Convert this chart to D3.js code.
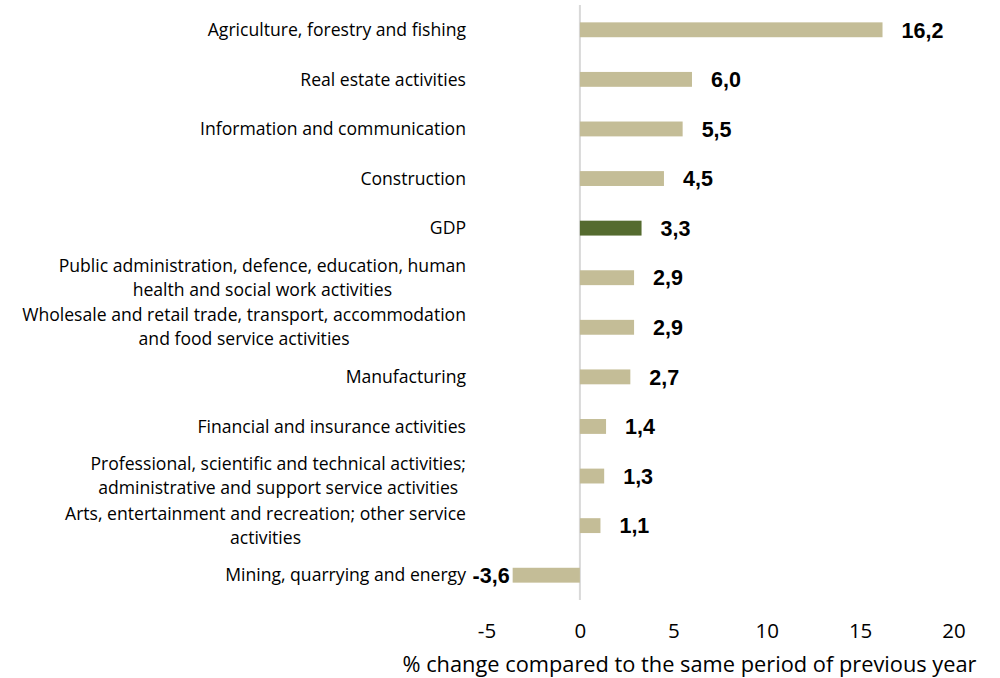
<!DOCTYPE html>
<html><head><meta charset="utf-8">
<script src="https://cdn.jsdelivr.net/npm/d3@7"></script>
<style>body{margin:0;background:#fff;} text{font-family:"Open Sans",Lato,sans-serif;}</style>
</head><body><svg id="c" width="1000" height="678"></svg>
<script>
const categories = [
  ["Agriculture, forestry and fishing"],
  ["Real estate activities"],
  ["Information and communication"],
  ["Construction"],
  ["GDP"],
  ["Public administration, defence, education, human","health and social work activities"],
  ["Wholesale and retail trade, transport, accommodation","and food service activities"],
  ["Manufacturing"],
  ["Financial and insurance activities"],
  ["Professional, scientific and technical activities;","administrative and support service activities"],
  ["Arts, entertainment and recreation; other service","activities"],
  ["Mining, quarrying and energy"]
];
const values = [16.2, 6.0, 5.5, 4.5, 3.3, 2.9, 2.9, 2.7, 1.4, 1.3, 1.1, -3.6];
const highlight = "GDP";
const xTicks = [-5, 0, 5, 10, 15, 20];
const xTitle = "% change compared to the same period of previous year";

const svg = d3.select("#c");
const x = d3.scaleLinear().domain([-5, 20]).range([486.5, 953.5]);
const y = d3.scaleBand().domain(d3.range(categories.length)).range([5, 600]).paddingInner(0.7).paddingOuter(0.35);
const fmt = v => v.toFixed(1).replace(".", ",");

svg.append("line").attr("x1", x(0)).attr("x2", x(0)).attr("y1", 5).attr("y2", 600)
  .attr("stroke", "#d9d9d9").attr("stroke-width", 2);

svg.selectAll("rect.bar").data(values).join("rect").attr("class","bar")
  .attr("x", d => x(Math.min(0, d))).attr("width", d => Math.abs(x(d) - x(0)))
  .attr("y", (d,i) => y(i)).attr("height", y.bandwidth())
  .attr("fill", (d,i) => categories[i][0] === highlight ? "#556b2f" : "#c4bd97");

svg.selectAll("text.val").data(values).join("text").attr("class","val")
  .attr("x", d => d >= 0 ? x(d) + 19 : x(d) - 3)
  .attr("y", (d,i) => y(i) + y.bandwidth()/2)
  .attr("dy", "0.36em").attr("text-anchor", d => d >= 0 ? "start" : "end")
  .style("font-family", "Liberation Sans, Arial, sans-serif").style("font-weight", "bold").style("font-size", "21.5px")
  .attr("fill", "#000").text(fmt);

const cat = svg.selectAll("text.cat").data(categories).join("text").attr("class","cat")
  .attr("text-anchor", "end").style("font-size", "17.6px").attr("fill", "#000")
  .attr("transform", (d,i) => `translate(466,${y(i) + y.bandwidth()/2})`);
cat.selectAll("tspan").data(d => d.map((t,j) => ({t, j, n: d.length}))).join("tspan")
  .attr("x", 0)
  .attr("y", d => (d.j - (d.n - 1)/2) * 24)
  .attr("dy", "0.35em").text(d => d.t);
cat.each(function(d){
  if (d.length > 1) {
    const ts = d3.select(this).selectAll("tspan").nodes();
    const w0 = ts[0].getComputedTextLength(), w1 = ts[1].getComputedTextLength();
    d3.select(ts[1]).attr("x", -(w0 - w1)/2);
  }
});

const axis = d3.axisBottom(x).tickValues(xTicks).tickSize(0).tickFormat(d => d);
const ga = svg.append("g").attr("transform", "translate(0,620)").call(axis);
ga.select(".domain").remove();
ga.selectAll("text").style("font-family", "'Open Sans', Lato, sans-serif").style("font-size", "20.5px").attr("fill", "#000").attr("dy", "0.72em");

svg.append("text").attr("x", 689.5).attr("y", 672).attr("text-anchor", "middle")
  .style("font-size", "21.8px").attr("fill", "#000").text(xTitle);
</script></body></html>
